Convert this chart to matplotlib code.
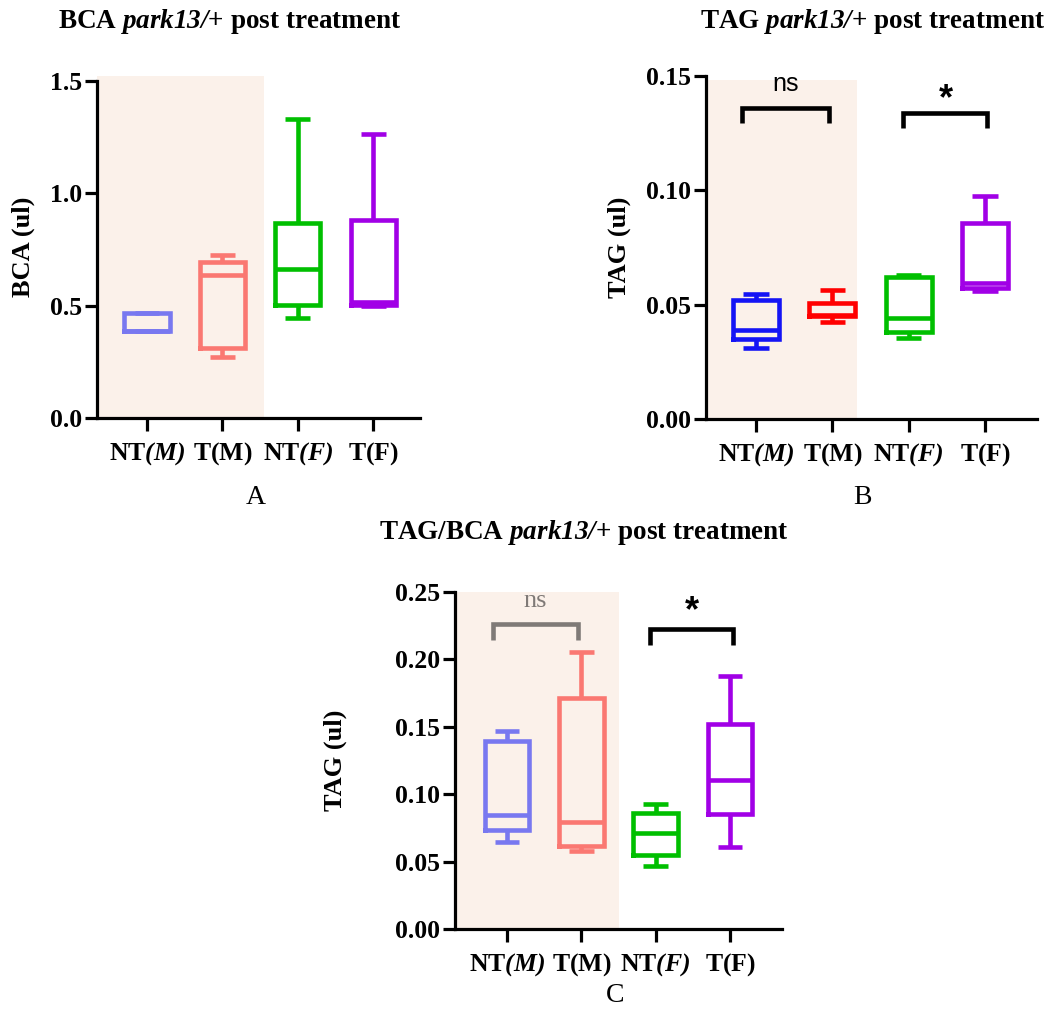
import matplotlib
matplotlib.use("Agg")
import matplotlib.pyplot as plt

plt.rcParams['font.family'] = ['Liberation Serif', 'DejaVu Serif']
plt.rcParams['mathtext.fontset'] = 'custom'
plt.rcParams['mathtext.rm'] = 'Liberation Serif:italic:bold'
plt.rcParams['mathtext.it'] = 'Liberation Serif:italic:bold'
plt.rcParams['mathtext.bf'] = 'Liberation Serif:bold'

# %%
groups = ['$\\mathbf{NT}\\mathit{(M)}$', '$\\mathbf{T(M)}$',
          '$\\mathbf{NT}\\mathit{(F)}$', '$\\mathbf{T(F)}$']

# BCA
bca_lo = [0.388, 0.274, 0.447, 0.497]
bca_q1 = [0.388, 0.314, 0.503, 0.505]
bca_med = [0.388, 0.637, 0.662, 0.515]
bca_q3 = [0.470, 0.695, 0.866, 0.881]
bca_hi = [0.470, 0.726, 1.330, 1.262]

# TAG
tag_lo = [0.0313, 0.0424, 0.0357, 0.0559]
tag_q1 = [0.0350, 0.0453, 0.0382, 0.0572]
tag_med = [0.0390, 0.0458, 0.0441, 0.0597]
tag_q3 = [0.0521, 0.0507, 0.0620, 0.0856]
tag_hi = [0.0548, 0.0565, 0.0631, 0.0976]

# TAG/BCA
ratio_lo = [0.0642, 0.0580, 0.0469, 0.0605]
ratio_q1 = [0.0735, 0.0617, 0.0550, 0.0856]
ratio_med = [0.0846, 0.0797, 0.0711, 0.1106]
ratio_q3 = [0.1397, 0.1713, 0.0861, 0.1520]
ratio_hi = [0.1466, 0.2058, 0.0928, 0.1878]

col_light = ['#7878F0', '#FA7872', '#00BF00', '#A100E6']
col_dark = ['#1414F5', '#FF0000', '#00BF00', '#A100E6']
shade = '#FBF1EA'

LW = 3.3


def make_stats(lo, q1, med, q3, hi):
    return [dict(whislo=a, q1=b, med=c, q3=d, whishi=e, fliers=[])
            for a, b, c, d, e in zip(lo, q1, med, q3, hi)]


def draw_panel(ax, stats, colors, ymax, ytop, yticks, yticklabels, ylab, shade_end, xlim):
    ax.fill_between([xlim[0], shade_end], 0, ytop, color=shade, lw=0, zorder=0)
    for i, (s, c) in enumerate(zip(stats, colors)):
        ax.bxp([s], positions=[i], widths=0.6, capwidths=0.33, showfliers=False,
               boxprops=dict(color=c, lw=LW, solid_joinstyle='miter'),
               whiskerprops=dict(color=c, lw=LW, solid_capstyle='butt'),
               capprops=dict(color=c, lw=LW, solid_capstyle='butt'),
               medianprops=dict(color=c, lw=LW, solid_capstyle='butt'),
               manage_ticks=False)
    ax.set_xlim(*xlim)
    ax.set_ylim(0, ymax)
    ax.set_xticks(range(len(groups)))
    ax.set_xticklabels(groups, fontsize=18.5)
    ax.set_yticks(yticks)
    ax.set_yticklabels(yticklabels, fontsize=18.5, fontweight='bold')
    ax.tick_params(axis='x', length=9, width=2.3, pad=7)
    ax.tick_params(axis='y', length=9, width=2.3, pad=2)
    for side in ['top', 'right']:
        ax.spines[side].set_visible(False)
    for side in ['left', 'bottom']:
        ax.spines[side].set_linewidth(2.3)
    ax.spines['left'].set_bounds(0, yticks[-1])
    ax.set_ylabel(ylab, fontsize=19, fontweight='bold', va='center')


def bracket(ax, x0, x1, ytop, ybot, color):
    ax.plot([x0, x0, x1, x1], [ybot, ytop, ytop, ybot], color=color, lw=LW,
            solid_joinstyle='miter', solid_capstyle='butt', zorder=3)


fig = plt.figure(figsize=(10.47, 10.09), dpi=100)

# %% A
axA = fig.add_axes([0.0926, 0.5854, 0.3085, 0.3390])
draw_panel(axA, make_stats(bca_lo, bca_q1, bca_med, bca_q3, bca_hi), col_light,
           1.52, 1.52, [0, 0.5, 1.0, 1.5], ['0.0', '0.5', '1.0', '1.5'],
           'BCA (ul)', 1.55, (-0.664, 3.62))
axA.yaxis.set_label_coords(-0.229, 0.5)

# %% B
axB = fig.add_axes([0.6743, 0.5844, 0.3161, 0.3402])
draw_panel(axB, make_stats(tag_lo, tag_q1, tag_med, tag_q3, tag_hi), col_dark,
           0.15, 0.1485, [0, 0.05, 0.10, 0.15], ['0.00', '0.05', '0.10', '0.15'],
           'TAG (ul)', 1.32, (-0.655, 3.68))
axB.yaxis.set_label_coords(-0.263, 0.5)
bracket(axB, -0.18, 0.96, 0.1359, 0.1293, 'black')
bracket(axB, 1.92, 3.03, 0.1337, 0.1271, 'black')
axB.text(0.39, 0.1465, 'ns', ha='center', va='center', fontsize=18,
         family='Liberation Sans', color='black')
axB.text(2.49, 0.1395, '*', ha='center', va='center', fontsize=26,
         family='Liberation Sans', fontweight='bold', color='black')

# %% C
axC = fig.add_axes([0.4346, 0.0793, 0.3123, 0.3340])
draw_panel(axC, make_stats(ratio_lo, ratio_q1, ratio_med, ratio_q3, ratio_hi), col_light,
           0.25, 0.25, [0, 0.05, 0.10, 0.15, 0.20, 0.25],
           ['0.00', '0.05', '0.10', '0.15', '0.20', '0.25'],
           'TAG (ul)', 1.50, (-0.70, 3.70))
axC.yaxis.set_label_coords(-0.367, 0.5)
bracket(axC, -0.19, 0.96, 0.2266, 0.2142, '#7F7A77')
bracket(axC, 1.92, 3.04, 0.2229, 0.2105, 'black')
axC.text(0.38, 0.2435, 'ns', ha='center', va='center', fontsize=19,
         color='#7F7A77')
axC.text(2.49, 0.2355, '*', ha='center', va='center', fontsize=26,
         family='Liberation Sans', fontweight='bold', color='black')

# %% titles and panel letters
fig.text(0.2197, 0.9782, 'BCA $park13/$+ post treatment', ha='center', va='center',
         fontsize=19.5, fontweight='bold')
fig.text(0.8329, 0.9782, 'TAG $park13/$+ post treatment', ha='center', va='center',
         fontsize=19.5, fontweight='bold')
fig.text(0.5578, 0.4718, 'TAG/BCA $park13/$+ post treatment', ha='center', va='center',
         fontsize=19.5, fontweight='bold')
fig.text(0.2445, 0.5074, 'A', ha='center', va='center', fontsize=20)
fig.text(0.8233, 0.5074, 'B', ha='center', va='center', fontsize=20)
fig.text(0.5874, 0.0129, 'C', ha='center', va='center', fontsize=20)

fig.savefig('out.png', dpi=100)
